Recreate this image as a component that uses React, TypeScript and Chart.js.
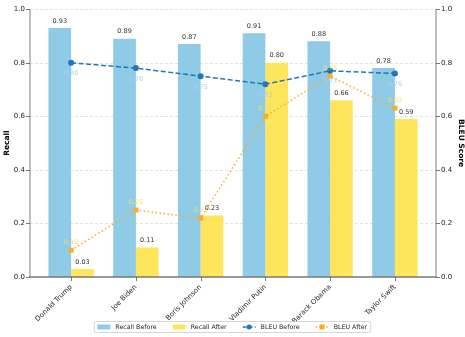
import React, { useEffect, useRef } from "react";
import { Chart, registerables } from "chart.js";

Chart.register(...registerables);

const categories = ["Donald Trump", "Joe Biden", "Boris Johnson", "Vladimir Putin", "Barack Obama", "Taylor Swift"];
const recallBefore = [0.93, 0.89, 0.87, 0.91, 0.88, 0.78];
const recallAfter = [0.03, 0.11, 0.23, 0.8, 0.66, 0.59];
const bleuBefore = [0.8, 0.78, 0.75, 0.72, 0.77, 0.76];
const bleuAfter = [0.1, 0.25, 0.22, 0.6, 0.75, 0.63];
const yTicks = [0, 0.2, 0.4, 0.6, 0.8, 1.0];

const FONT = "DejaVu Sans";
const BLUE_BAR = "#8fcae6";
const YELLOW_BAR = "#ffe55c";
const LINE_BLUE = "#2078b8";
const LINE_ORANGE = "#ffab22";
const LABEL_BLUE = "#a3d2ee";
const LABEL_YELLOW = "#f3dc78";

const decor = {
  id: "decor",
  beforeDatasetsDraw(chart: any) {
    const { ctx, chartArea: a, scales } = chart;
    const y = scales.y;
    ctx.save();
    ctx.strokeStyle = "#dadada";
    ctx.lineWidth = 0.8;
    ctx.setLineDash([3, 2]);
    yTicks.forEach((t) => {
      if (t === 0) return;
      const py = Math.round(y.getPixelForValue(t)) + 0.5;
      ctx.beginPath();
      ctx.moveTo(a.left, py);
      ctx.lineTo(a.right, py);
      ctx.stroke();
    });
    ctx.restore();
  },
  afterDatasetsDraw(chart: any) {
    const { ctx } = chart;
    ctx.save();
    ctx.textAlign = "center";
    ctx.textBaseline = "middle";
    ctx.font = `6.5px ${FONT}`;
    [0, 1].forEach((di) => {
      const meta = chart.getDatasetMeta(di);
      const vals = di === 0 ? recallBefore : recallAfter;
      meta.data.forEach((el: any, j: number) => {
        ctx.fillStyle = "#333";
        ctx.fillText(vals[j].toFixed(2), el.x, el.y - 7);
      });
    });
    const mb = chart.getDatasetMeta(2);
    mb.data.forEach((el: any, j: number) => {
      ctx.fillStyle = LABEL_BLUE;
      ctx.fillText(bleuBefore[j].toFixed(2), el.x, el.y + 11);
    });
    const ma = chart.getDatasetMeta(3);
    ma.data.forEach((el: any, j: number) => {
      ctx.fillStyle = LABEL_YELLOW;
      ctx.fillText(bleuAfter[j].toFixed(2), el.x, el.y - 8);
    });
    ctx.restore();
  },
  afterDraw(chart: any) {
    const { ctx, chartArea: a, scales } = chart;
    const y = scales.y;
    const x = scales.x;
    ctx.save();
    // spines
    ctx.lineWidth = 1.5;
    ctx.strokeStyle = "#aaaaaa";
    ctx.beginPath();
    ctx.moveTo(a.left, a.top);
    ctx.lineTo(a.left, a.bottom);
    ctx.moveTo(a.right, a.top);
    ctx.lineTo(a.right, a.bottom);
    ctx.stroke();
    ctx.strokeStyle = "#777777";
    ctx.beginPath();
    ctx.moveTo(a.left - 0.75, a.bottom);
    ctx.lineTo(a.right + 0.75, a.bottom);
    ctx.stroke();
    // tick marks
    ctx.lineWidth = 0.8;
    ctx.strokeStyle = "#555";
    yTicks.forEach((t) => {
      const py = Math.round(y.getPixelForValue(t)) + 0.5;
      ctx.beginPath();
      ctx.moveTo(a.left - 4, py);
      ctx.lineTo(a.left, py);
      ctx.moveTo(a.right, py);
      ctx.lineTo(a.right + 4, py);
      ctx.stroke();
    });
    categories.forEach((_, i) => {
      const px = Math.round(x.getPixelForValue(i)) + 0.5;
      ctx.beginPath();
      ctx.moveTo(px, a.bottom);
      ctx.lineTo(px, a.bottom + 4);
      ctx.stroke();
    });

    // legend
    const items = [
      { type: "rect", color: BLUE_BAR, label: "Recall Before" },
      { type: "rect", color: YELLOW_BAR, label: "Recall After" },
      { type: "line", color: LINE_BLUE, dash: [4, 2], marker: "circle", label: "BLEU Before" },
      { type: "line", color: LINE_ORANGE, dash: [1.5, 2], marker: "rect", label: "BLEU After" },
    ];
    ctx.font = `6.3px ${FONT}`;
    const patchW = 13;
    const gapText = 5;
    const gapItem = 16;
    const widths = items.map((it) => patchW + gapText + ctx.measureText(it.label).width);
    const inner = widths.reduce((s, w) => s + w, 0) + gapItem * (items.length - 1);
    const padL = 3.5;
    const padR = 3;
    const boxW = inner + padL + padR;
    const cx = 232;
    const bx = cx - boxW / 2;
    const by = 321;
    const bh = 11;
    ctx.setLineDash([]);
    ctx.fillStyle = "#fff";
    ctx.strokeStyle = "#cccccc";
    ctx.lineWidth = 0.8;
    ctx.beginPath();
    (ctx as any).roundRect(bx + 0.5, by + 0.5, boxW, bh, 2);
    ctx.fill();
    ctx.stroke();
    let px = bx + padL;
    const cy = by + bh / 2 + 0.5;
    items.forEach((it, k) => {
      if (it.type === "rect") {
        ctx.fillStyle = it.color;
        ctx.fillRect(px, cy - 2.5, patchW, 5);
      } else {
        ctx.strokeStyle = it.color;
        ctx.lineWidth = 1.5;
        ctx.setLineDash(it.dash as number[]);
        ctx.beginPath();
        ctx.moveTo(px, cy);
        ctx.lineTo(px + patchW, cy);
        ctx.stroke();
        ctx.setLineDash([]);
        ctx.fillStyle = it.color;
        if (it.marker === "circle") {
          ctx.beginPath();
          ctx.arc(px + patchW / 2, cy, 2.5, 0, Math.PI * 2);
          ctx.fill();
        } else {
          ctx.fillRect(px + patchW / 2 - 2.5, cy - 2.5, 5, 5);
        }
      }
      ctx.fillStyle = "#222";
      ctx.textAlign = "left";
      ctx.textBaseline = "middle";
      ctx.fillText(it.label, px + patchW + gapText, cy);
      px += widths[k] + gapItem;
    });
    ctx.restore();
  },
};

export default function App() {
  const ref = useRef<HTMLCanvasElement | null>(null);
  useEffect(() => {
    document.body.style.margin = "0";
    Chart.defaults.font.family = FONT;
    const toXY = (arr: number[]) => arr.map((v, i) => ({ x: i, y: v }));
    const chart = new Chart(ref.current as HTMLCanvasElement, {
      type: "bar",
      data: {
        datasets: [
          {
            type: "bar",
            label: "Recall Before",
            data: toXY(recallBefore),
            backgroundColor: BLUE_BAR,
            borderWidth: 0,
            categoryPercentage: 0.7,
            barPercentage: 1.0,
            xAxisID: "x",
            yAxisID: "y",
            order: 2,
          },
          {
            type: "bar",
            label: "Recall After",
            data: toXY(recallAfter),
            backgroundColor: YELLOW_BAR,
            borderWidth: 0,
            categoryPercentage: 0.7,
            barPercentage: 1.0,
            xAxisID: "x",
            yAxisID: "y",
            order: 2,
          },
          {
            type: "line",
            label: "BLEU Before",
            data: toXY(bleuBefore),
            borderColor: LINE_BLUE,
            backgroundColor: LINE_BLUE,
            borderWidth: 1.5,
            borderDash: [5, 2.5],
            pointStyle: "circle",
            pointRadius: 3,
            pointBorderWidth: 0,
            fill: false,
            tension: 0,
            xAxisID: "x",
            yAxisID: "y1",
            order: 1,
          },
          {
            type: "line",
            label: "BLEU After",
            data: toXY(bleuAfter),
            borderColor: LINE_ORANGE,
            backgroundColor: LINE_ORANGE,
            borderWidth: 1.5,
            borderDash: [1.5, 2.5],
            pointStyle: "rect",
            pointRadius: 3.5,
            pointBorderWidth: 0,
            fill: false,
            tension: 0,
            xAxisID: "x",
            yAxisID: "y1",
            order: 1,
          },
        ],
      } as any,
      options: {
        animation: false,
        responsive: true,
        maintainAspectRatio: false,
        layout: { padding: { top: 7, left: 0, right: 0, bottom: 0 } },
        plugins: { legend: { display: false }, tooltip: { enabled: false } },
        scales: {
          x: {
            type: "linear",
            position: "bottom",
            offset: false,
            min: -0.635,
            max: 5.635,
            grid: { display: false, drawTicks: false },
            border: { display: false },
            afterBuildTicks: (s: any) => {
              s.ticks = categories.map((_, i) => ({ value: i }));
            },
            afterFit: (s: any) => {
              s.height = 60;
            },
            ticks: {
              autoSkip: false,
              maxRotation: 45,
              minRotation: 45,
              padding: 6,
              color: "#222",
              font: { size: 7, family: FONT },
              callback: (v: any) => categories[Math.round(Number(v))] ?? "",
            },
          },
          y: {
            type: "linear",
            position: "left",
            min: 0,
            max: 1,
            grid: { display: false, drawTicks: false },
            border: { display: false },
            afterBuildTicks: (s: any) => {
              s.ticks = yTicks.map((v) => ({ value: v }));
            },
            afterFit: (s: any) => {
              s.width = 30;
            },
            ticks: {
              padding: 5,
              color: "#222",
              font: { size: 7, family: FONT },
              callback: (v: any) => Number(v).toFixed(1),
            },
            title: {
              display: true,
              text: "Recall",
              color: "#000",
              font: { size: 7.5, weight: "bold", family: FONT },
              padding: { top: 3, bottom: 0 },
            },
          },
          y1: {
            type: "linear",
            position: "right",
            min: 0,
            max: 1,
            grid: { display: false, drawTicks: false },
            border: { display: false },
            afterBuildTicks: (s: any) => {
              s.ticks = yTicks.map((v) => ({ value: v }));
            },
            afterFit: (s: any) => {
              s.width = 29;
            },
            ticks: {
              padding: 5,
              color: "#222",
              font: { size: 7, family: FONT },
              callback: (v: any) => Number(v).toFixed(1),
            },
            title: {
              display: true,
              text: "BLEU Score",
              color: "#000",
              font: { size: 7.5, weight: "bold", family: FONT },
              padding: { top: 0, bottom: 3 },
            },
          },
        },
      } as any,
      plugins: [decor],
    });
    return () => chart.destroy();
  }, []);
  return (
    <div style={{ width: 465, height: 337, position: "relative" }}>
      <canvas ref={ref} />
    </div>
  );
}
